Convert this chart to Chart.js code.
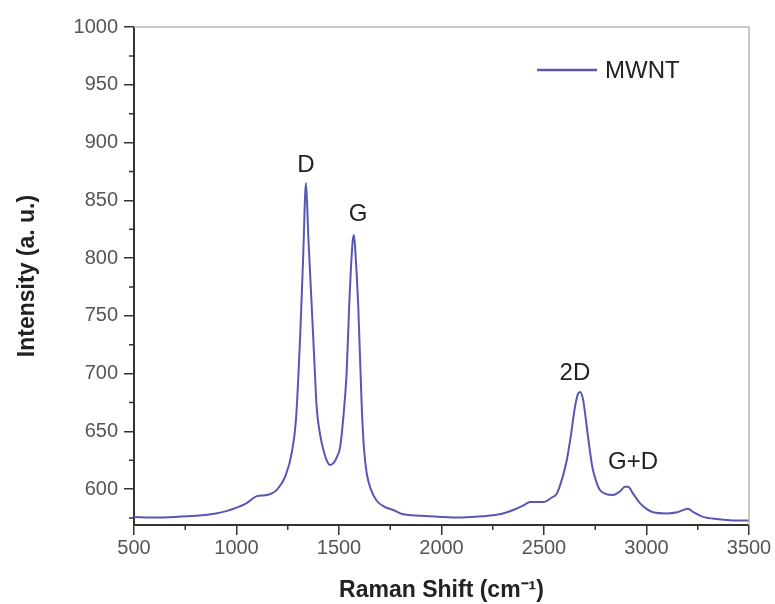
<!DOCTYPE html>
<html>
<head>
<meta charset="utf-8">
<script src="https://cdn.jsdelivr.net/npm/chart.js@4"></script>
<style>
  html, body { margin: 0; padding: 0; background: #fff; }
  #wrap { width: 775px; height: 604px; }
</style>
</head>
<body>
<div id="wrap"><canvas id="ramanChart" width="775" height="604"></canvas></div>
<script>
// Raman spectrum of MWNT
const shift = [500, 600, 700, 800, 900, 950, 1000, 1050, 1100, 1150, 1200, 1240, 1270, 1290, 1310, 1325, 1339,
  1350, 1367, 1380, 1391, 1410, 1424, 1440, 1456, 1475, 1490, 1505, 1520, 1537, 1550, 1557, 1567, 1573,
  1580, 1594, 1611, 1622, 1635, 1655, 1684, 1720, 1765, 1800, 1900, 2000, 2100, 2200, 2300, 2350, 2400,
  2432, 2470, 2500, 2540, 2562, 2590, 2611, 2630, 2650, 2665, 2676, 2690, 2715, 2735, 2749, 2770, 2800,
  2837, 2870, 2895, 2910, 2935, 2968, 3000, 3032, 3100, 3150, 3202, 3230, 3276, 3350, 3420, 3500];
const intensity = [576, 575.5, 576, 577, 579, 581, 584, 588, 594, 595, 600, 612, 632, 660, 730, 800, 865,
  820, 758, 710, 671, 645, 634, 625, 621, 623, 628, 636, 660, 700, 760, 787, 815, 820,
  805, 758, 671, 635, 614, 600, 590, 585, 582, 579, 577, 576, 575.5, 576.5, 579, 582, 586,
  589, 589, 589, 593, 596, 610, 625, 645, 670, 682, 684, 678, 645, 620, 610, 600, 596,
  595, 598, 602, 602, 596, 588, 583, 580, 579, 580, 583, 580, 576, 574, 573, 573];

const seriesName = 'MWNT';
const xTicks = [500, 1000, 1500, 2000, 2500, 3000, 3500];
const yTicks = [600, 650, 700, 750, 800, 850, 900, 950, 1000];
const xMinor = [750, 1250, 1750, 2250, 2750, 3250];
const yMinor = [575, 625, 675, 725, 775, 825, 875, 925, 975];

const peakLabels = ['D', 'G', '2D', 'G+D'];
const peakX = [1339, 1593, 2651, 2934];
const peakY = [880, 838, 700, 623];

const lineColor = '#5858b4';
const fontFam = '"Liberation Sans", Arial, sans-serif';

const extras = {
  id: 'extras',
  afterDraw(chart) {
    const { ctx, chartArea: a, scales: { x, y } } = chart;
    ctx.save();
    // light frame on top / right
    ctx.strokeStyle = '#b8b8b8';
    ctx.lineWidth = 1.5;
    ctx.beginPath();
    ctx.moveTo(a.left, a.top);
    ctx.lineTo(a.right, a.top);
    ctx.lineTo(a.right, a.bottom);
    ctx.stroke();

    // minor ticks
    ctx.strokeStyle = '#333';
    ctx.lineWidth = 1.5;
    ctx.beginPath();
    xMinor.forEach(v => {
      const px = x.getPixelForValue(v);
      ctx.moveTo(px, a.bottom);
      ctx.lineTo(px, a.bottom + 5);
    });
    yMinor.forEach(v => {
      const py = y.getPixelForValue(v);
      ctx.moveTo(a.left, py);
      ctx.lineTo(a.left - 5, py);
    });
    ctx.stroke();

    // peak labels
    ctx.fillStyle = '#222';
    ctx.font = '24px ' + fontFam;
    ctx.textAlign = 'center';
    ctx.textBaseline = 'middle';
    peakLabels.forEach((t, i) => {
      ctx.fillText(t, x.getPixelForValue(peakX[i]), y.getPixelForValue(peakY[i]));
    });

    // legend
    const lx = a.right - 212, ly = a.top + 43;
    ctx.strokeStyle = lineColor;
    ctx.lineWidth = 2.5;
    ctx.beginPath();
    ctx.moveTo(lx, ly);
    ctx.lineTo(lx + 60, ly);
    ctx.stroke();
    ctx.fillStyle = '#222';
    ctx.textAlign = 'left';
    ctx.fillText(seriesName, lx + 68, ly + 1);
    ctx.restore();
  }
};

new Chart(document.getElementById('ramanChart').getContext('2d'), {
  type: 'line',
  data: {
    datasets: [{
      label: seriesName,
      data: shift.map((s, i) => ({ x: s, y: intensity[i] })),
      borderColor: lineColor,
      borderWidth: 2,
      pointRadius: 0,
      cubicInterpolationMode: 'monotone',
      fill: false
    }]
  },
  options: {
    responsive: false,
    animation: false,
    layout: { padding: { top: 27, right: 26, left: 0, bottom: 0 } },
    plugins: {
      legend: { display: false },
      tooltip: { enabled: false }
    },
    scales: {
      x: {
        type: 'linear',
        min: 500,
        max: 3500,
        afterBuildTicks: s => { s.ticks = xTicks.map(v => ({ value: v })); },
        afterFit: s => { s.height = 79; },
        grid: { drawOnChartArea: false, tickLength: 10, color: '#333', lineWidth: 1.5 },
        border: { color: '#333', width: 2 },
        ticks: { color: '#555', font: { size: 20, family: fontFam }, padding: 1, maxRotation: 0,
          callback: v => String(v) },
        title: {
          display: true,
          text: 'Raman Shift (cm\u207B\u00B9)',
          color: '#222',
          font: { size: 23, weight: 'bold', family: fontFam },
          padding: { top: 0, bottom: 0 }
        }
      },
      y: {
        min: 569,
        max: 1000,
        afterBuildTicks: s => { s.ticks = yTicks.map(v => ({ value: v })); },
        afterFit: s => { s.width = 134; },
        grid: { drawOnChartArea: false, tickLength: 10, color: '#333', lineWidth: 1.5 },
        border: { color: '#333', width: 2 },
        ticks: { color: '#555', font: { size: 20, family: fontFam }, padding: 6,
          callback: v => String(v) },
        title: {
          display: true,
          text: 'Intensity (a. u.)',
          color: '#222',
          font: { size: 23, weight: 'bold', family: fontFam },
          padding: { top: 14, bottom: 0 }
        }
      }
    }
  },
  plugins: [extras]
});
</script>
</body>
</html>
